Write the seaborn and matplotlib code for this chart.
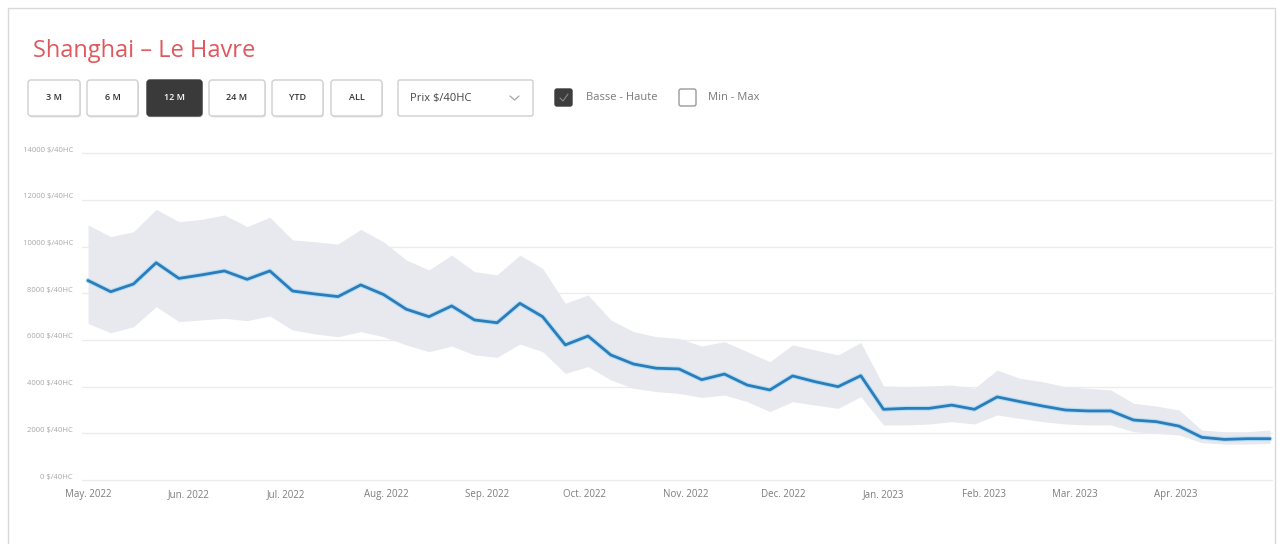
import numpy as np
import pandas as pd
import matplotlib
matplotlib.use("Agg")
import matplotlib.pyplot as plt
import matplotlib.patheffects as pe
from matplotlib.patches import FancyBboxPatch
from matplotlib.transforms import ScaledTranslation
import seaborn as sns

# ---------------- data ----------------
title = "Shanghai – Le Havre"
buttons = ["3 M", "6 M", "12 M", "24 M", "YTD", "ALL"]
active_button = "12 M"
dropdown_label = r"Prix \$/40HC"
check_labels = ["Basse - Haute", "Min - Max"]

start_date = "2022-05-01"
n_weeks = 53
dates = pd.date_range(start_date, periods=n_weeks, freq="7D")

price = [8550, 8070, 8400, 9310, 8640, 8790, 8960, 8600, 8960, 8100,
         7970, 7860, 8360, 7950, 7320, 7000, 7460, 6860, 6740, 7570,
         7000, 5790, 6170, 5360, 4970, 4790, 4760, 4300, 4540, 4070,
         3860, 4460, 4210, 4000, 4470, 3030, 3070, 3070, 3210, 3030,
         3560, 3360, 3170, 3000, 2960, 2960, 2570, 2500, 2310, 1830,
         1740, 1770, 1770]
high = [10930, 10430, 10640, 11600, 11070, 11170, 11360, 10860, 11260, 10290,
        10210, 10110, 10740, 10210, 9430, 9000, 9640, 8930, 8790, 9640,
        9070, 7570, 7930, 6860, 6360, 6140, 6070, 5740, 5930, 5500,
        5070, 5790, 5570, 5360, 5890, 4030, 4000, 4030, 4070, 3930,
        4710, 4360, 4210, 4000, 3930, 3860, 3290, 3170, 3000, 2140,
        2070, 2070, 2140]
low = [6710, 6310, 6570, 7430, 6790, 6860, 6930, 6830, 7030, 6430,
       6260, 6140, 6360, 6140, 5790, 5500, 5740, 5360, 5260, 5830,
       5500, 4570, 4860, 4290, 3930, 3790, 3710, 3540, 3640, 3360,
       2930, 3360, 3210, 3070, 3570, 2360, 2360, 2400, 2500, 2400,
       2790, 2640, 2500, 2400, 2360, 2360, 2070, 2000, 1930, 1600,
       1540, 1540, 1570]

ytick_values = [0, 2000, 4000, 6000, 8000, 10000, 12000, 14000]
ytick_labels = [f"{v} \\$/40HC" for v in ytick_values]
month_ticks = pd.date_range("2022-05-01", "2023-04-01", freq="MS")
month_labels = ["May. 2022", "Jun. 2022", "Jul. 2022", "Aug. 2022", "Sep. 2022",
                "Oct. 2022", "Nov. 2022", "Dec. 2022", "Jan. 2023", "Feb. 2023",
                "Mar. 2023", "Apr. 2023"]

# ---------------- style ----------------
sns.set_style("white")
plt.rcParams["font.family"] = ["Open Sans", "DejaVu Sans"]

W, H = 1279, 544
fig = plt.figure(figsize=(W / 100, H / 100), dpi=100)
fig.patch.set_facecolor("white")

# UI layer in pixel coordinates
ui = fig.add_axes([0, 0, 1, 1])
ui.set_xlim(0, W)
ui.set_ylim(H, 0)
ui.axis("off")

# card border
ui.plot([8, 8, 1275, 1275], [560, 8, 8, 560], color="#d9d9d9", lw=1)

ui.text(33, 57, title, fontsize=17, color="#e0585d", va="baseline", ha="left")

btn_x = [(28, 80), (87, 138), (147, 202), (209, 265), (272, 323), (331, 382)]
by0, by1 = 80, 116
for lab, (x0, x1) in zip(buttons, btn_x):
    active = lab == active_button
    ui.add_patch(FancyBboxPatch((x0 + 1, by0 + 1.5), x1 - x0, by1 - by0,
                                boxstyle="round,pad=0,rounding_size=3",
                                fc="#e4e4e4", ec="none", zorder=1))
    ui.add_patch(FancyBboxPatch((x0, by0), x1 - x0, by1 - by0,
                                boxstyle="round,pad=0,rounding_size=3",
                                fc="#3a3a3a" if active else "white",
                                ec="#3a3a3a" if active else "#cfcfcf", lw=1, zorder=2))
    ui.text((x0 + x1) / 2, (by0 + by1) / 2, lab, fontsize=6.5, fontweight="semibold",
            color="white" if active else "#333333", ha="center", va="center", zorder=3)

# dropdown
ui.add_patch(FancyBboxPatch((398, by0), 135, by1 - by0,
                            boxstyle="round,pad=0,rounding_size=2",
                            fc="white", ec="#cfcfcf", lw=1, zorder=2))
ui.text(410, 98, dropdown_label, fontsize=8, color="#444444", ha="left", va="center", zorder=3)
ui.plot([510, 514.5, 519], [96, 100, 96], color="#a5a5a5", lw=0.9, zorder=3)

# checkboxes
ui.add_patch(FancyBboxPatch((555, 89), 17, 17, boxstyle="round,pad=0,rounding_size=2",
                            fc="#3d3d3d", ec="#3d3d3d", lw=1, zorder=2))
ui.plot([560, 563, 568], [98, 101, 94], color="#8a8a8a", lw=0.8, zorder=3)
ui.text(586, 98, check_labels[0], fontsize=8, color="#7a7a7a", ha="left", va="center")
ui.add_patch(FancyBboxPatch((679, 89), 17, 17, boxstyle="round,pad=0,rounding_size=2",
                            fc="white", ec="#9a9a9a", lw=1, zorder=2))
ui.text(708, 98, check_labels[1], fontsize=8, color="#7a7a7a", ha="left", va="center")

# ---------------- chart ----------------
px_per_unit = (480 - 153.33) / 14000
y_lo, y_hi = -100, 14150
top_px = 480 - y_hi * px_per_unit
bot_px = 480 - y_lo * px_per_unit
ax_left, ax_right = 82, 1273
ax = fig.add_axes([ax_left / W, 1 - bot_px / H, (ax_right - ax_left) / W, (bot_px - top_px) / H])
ax.patch.set_alpha(0)

ax.fill_between(dates, low, high, color="#e7e9ef", lw=0, zorder=1)
df = pd.DataFrame({"date": dates, "price": price})
sns.lineplot(data=df, x="date", y="price", ax=ax, color="#2b7cba", lw=2.0, zorder=3)
ax.lines[-1].set_path_effects([pe.Stroke(linewidth=3.6, foreground="#b9def3"), pe.Normal()])

ax.set_ylim(y_lo, y_hi)
ax.set_yticks(ytick_values)
ax.set_yticklabels(ytick_labels)
ax.grid(axis="y", color="#ececec", lw=1)
ax.grid(axis="x", visible=False)
ax.set_axisbelow(True)
for s in ax.spines.values():
    s.set_visible(False)

day = pd.Timedelta(days=1)
ax.set_xlim(dates[0] - 1.85 * day, dates[-1] + 0.95 * day)
ax.set_xticks(month_ticks)
ax.set_xticklabels(month_labels)
ax.set_xlabel("")
ax.set_ylabel("")
ax.tick_params(axis="y", length=0, pad=6.5, labelsize=5.5, labelcolor="#a8a8a8")
ax.tick_params(axis="x", length=0, pad=5, labelsize=7, labelcolor="#7d7d7d")
for lbl in ax.get_yticklabels():
    lbl.set_transform(lbl.get_transform() + ScaledTranslation(0, 4 / 100, fig.dpi_scale_trans))

fig.savefig("out.png", dpi=100, facecolor="white")
